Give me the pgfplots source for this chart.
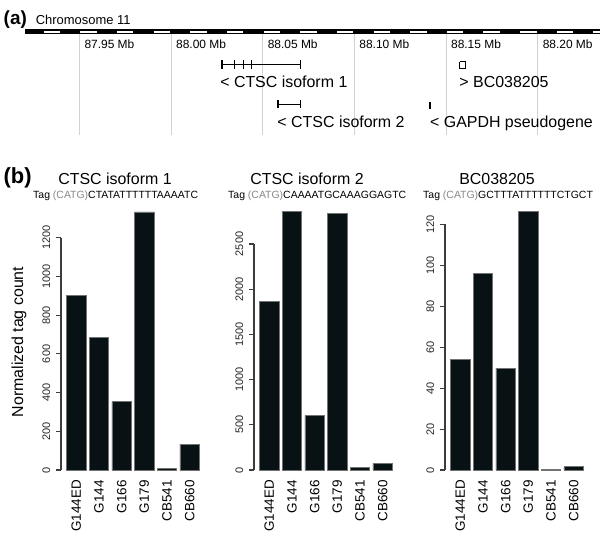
\documentclass[border=0pt]{standalone}
\usepackage{pgfplots}
\pgfplotsset{compat=1.18}
\usepackage{fontspec}
\setmainfont{Liberation Sans}
\definecolor{barcol}{RGB}{8,18,20}
\definecolor{gridcol}{RGB}{200,214,218}
\definecolor{taggray}{RGB}{135,135,135}
\definecolor{axcol}{RGB}{60,60,60}
\newcommand{\fs}[1]{\fontsize{#1}{#1}\selectfont}
\pgfplotsset{
  barpanel/.style={
    scale only axis, width=143.95bp, height=265bp,
    xmin=-0.675, xmax=5.675, ymin=0,
    axis x line*=bottom, axis y line*=left,
    x axis line style={draw=none},
    y axis line style={axcol, line width=1.1bp},
    xtick={0,...,5},
    xticklabels={G144ED,G144,G166,G179,CB541,CB660},
    xtick style={draw=none},
    xticklabel style={rotate=90, anchor=east, inner sep=0pt, font=\fs{13.5}},
    xticklabel shift=5bp,
    tick align=outside,
    major tick length=5bp,
    ytick style={axcol, line width=1.1bp},
    yticklabel style={rotate=90, anchor=base, inner sep=0pt, font=\fs{11}, text=black!85},
    yticklabel shift=6bp,
    /pgf/number format/assume math mode=true,
    /pgf/number format/1000 sep={},
    clip=false,
  },
  bars/.style={ybar, bar width=19.5bp, bar shift=0pt, fill=barcol, draw=black!55, line width=0.5bp},
}
\begin{document}
\begin{tikzpicture}
\useasboundingbox (0,0) rectangle (600bp,-552bp);
% ---------- panel (a): genome track ----------
\begin{axis}[
  at={(25bp,-33bp)}, anchor=north west,
  scale only axis, width=575bp, height=102bp,
  xmin=87.920376, xmax=88.234070, ymin=33, ymax=135, y dir=reverse,
  axis line style={draw=none}, ytick=\empty,
  xtick={87.95,88.00,88.05,88.10,88.15,88.20}, xticklabels={},
  tick style={draw=none},
  xmajorgrids, grid style={gridcol, line width=0.8bp},
  clip=false,
]
% chromosome band
\addplot[black, line width=5bp] coordinates {(87.920376,31.5) (88.234070,31.5)};
\addplot[white, line width=2bp, unbounded coords=jump] coordinates {
 (87.9305,31.5) (87.9395,31.5) (87.94,nan)
 (87.9505,31.5) (87.9595,31.5) (87.96,nan)
 (87.9705,31.5) (87.9795,31.5) (87.98,nan)
 (87.9905,31.5) (87.9995,31.5) (88.00,nan)
 (88.0105,31.5) (88.0195,31.5) (88.02,nan)
 (88.0305,31.5) (88.0395,31.5) (88.04,nan)
 (88.0505,31.5) (88.0595,31.5) (88.06,nan)
 (88.0705,31.5) (88.0795,31.5) (88.08,nan)
 (88.0905,31.5) (88.0995,31.5) (88.10,nan)
 (88.1105,31.5) (88.1195,31.5) (88.12,nan)
 (88.1305,31.5) (88.1395,31.5) (88.14,nan)
 (88.1505,31.5) (88.1595,31.5) (88.16,nan)
 (88.1705,31.5) (88.1795,31.5) (88.18,nan)
 (88.1905,31.5) (88.1995,31.5) (88.20,nan)
 (88.2105,31.5) (88.2195,31.5) (88.22,nan)
 (88.2305,31.5) (88.2340,31.5)};
% CTSC isoform 1
\addplot[black, line width=0.7bp] coordinates {(88.0273,64.3) (88.0705,64.3)};
\addplot[black, line width=0.8bp, unbounded coords=jump] coordinates {
 (88.0273,60) (88.0273,68.6) (88.0273,nan)
 (88.0281,60) (88.0281,68.6) (88.0281,nan)
 (88.0344,60) (88.0344,68.6) (88.0344,nan)
 (88.0393,60) (88.0393,68.6) (88.0393,nan)
 (88.0437,60) (88.0437,68.6) (88.0437,nan)
 (88.0705,60) (88.0705,68.6)};
% CTSC isoform 2
\addplot[black, line width=0.7bp] coordinates {(88.0581,104.3) (88.0705,104.3)};
\addplot[black, line width=2bp] coordinates {(88.0586,100.3) (88.0586,108.3)};
\addplot[black, line width=0.8bp] coordinates {(88.0705,100.3) (88.0705,108.3)};
% BC038205
\addplot[black, line width=0.9bp] coordinates {(88.1575,61.5) (88.1608,61.5) (88.1608,68.5) (88.1575,68.5) (88.1575,61.5)};
% GAPDH pseudogene
\addplot[black, line width=2bp] coordinates {(88.1414,101.7) (88.1414,109.3)};
% labels
\foreach \m in {87.95,88.00,88.05,88.10,88.15,88.20}{
  \edef\temp{\noexpand\node[anchor=base west, inner sep=0pt, font=\noexpand\fs{12}, xshift=5bp] at (axis cs:\m,48) {\m\noexpand\ Mb};}
  \temp
}
\node[anchor=base west, inner sep=0pt, font=\fs{16}] at (axis cs:88.0268,87) {< CTSC isoform 1};
\node[anchor=base west, inner sep=0pt, font=\fs{16}] at (axis cs:88.1573,87) {> BC038205};
\node[anchor=base west, inner sep=0pt, font=\fs{16}] at (axis cs:88.0580,127.3) {< CTSC isoform 2};
\node[anchor=base west, inner sep=0pt, font=\fs{16}] at (axis cs:88.1413,127.3) {< GAPDH pseudogene};
\end{axis}
\node[anchor=base west, inner sep=0pt, font=\bfseries\fs{19}] at (3.5bp,-24.5bp) {(a)};
\node[anchor=base west, inner sep=0pt, font=\fs{13}] at (35.6bp,-24bp) {Chromosome 11};
% ---------- panel (b) ----------
\begin{axis}[barpanel, at={(61bp,-470bp)}, anchor=south west, ymax=1369, ytick={0,200,...,1200},
  y axis line style={shorten >=32.7bp}]
\addplot[bars] coordinates {(0,904) (1,685) (2,353) (3,1334) (4,9) (5,134)};
\end{axis}
\begin{axis}[barpanel, at={(254bp,-470bp)}, anchor=south west, ymax=2931, ytick={0,500,...,2500},
  y axis line style={shorten >=38.96bp}]
\addplot[bars] coordinates {(0,1862) (1,2857) (2,601) (3,2840) (4,33) (5,74)};
\end{axis}
\begin{axis}[barpanel, at={(445bp,-470bp)}, anchor=south west, ymax=129.5, ytick={0,20,...,120},
  y axis line style={shorten >=19.4bp}]
\addplot[bars] coordinates {(0,54.1) (1,96.2) (2,49.7) (3,126.3) (4,0.2) (5,1.6)};
\end{axis}
\node[anchor=base west, inner sep=0pt, font=\bfseries\fs{22}] at (3.5bp,-183.7bp) {(b)};
\node[anchor=base, inner sep=0pt, font=\fs{16}] at (115bp,-184bp) {CTSC isoform 1};
\node[anchor=base, inner sep=0pt, font=\fs{16}] at (307bp,-184bp) {CTSC isoform 2};
\node[anchor=base, inner sep=0pt, font=\fs{16}] at (497bp,-184bp) {BC038205};
\node[anchor=base west, inner sep=0pt, font=\fs{10.5}] at (33bp,-198.5bp) {Tag \textcolor{taggray}{(CATG)}CTATATTTTTTAAAATC};
\node[anchor=base west, inner sep=0pt, font=\fs{10.5}] at (228bp,-198.5bp) {Tag \textcolor{taggray}{(CATG)}CAAAATGCAAAGGAGTC};
\node[anchor=base west, inner sep=0pt, font=\fs{10.5}] at (423bp,-198.5bp) {Tag \textcolor{taggray}{(CATG)}GCTTTATTTTTTCTGCT};
\node[anchor=base, rotate=90, inner sep=0pt, font=\fs{16}] at (23bp,-342bp) {Normalized tag count};
\end{tikzpicture}
\end{document}
